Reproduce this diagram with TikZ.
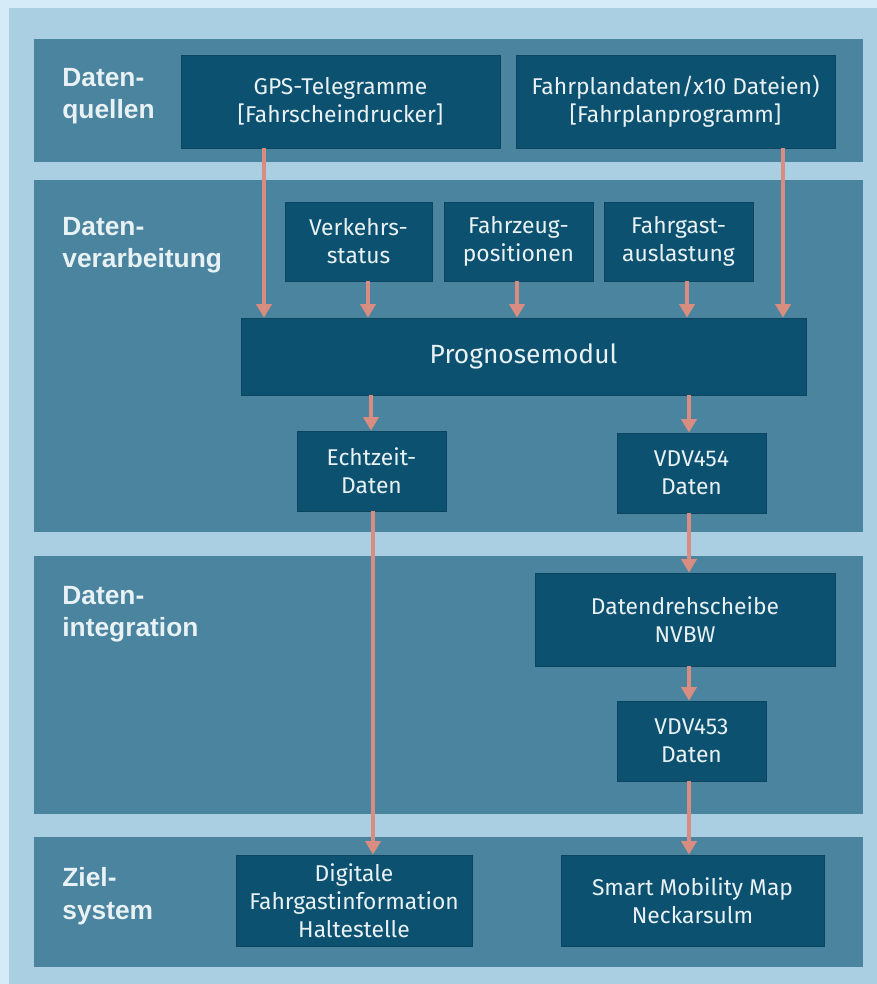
\documentclass[tikz,border=0pt]{standalone}
\usepackage{fontspec}
\setmainfont{Fira Sans}
\newfontfamily\labelfont{Liberation Sans}
\usetikzlibrary{arrows.meta}

\definecolor{pale}{HTML}{D6EBF8}
\definecolor{panel}{HTML}{AACFE2}
\definecolor{band}{HTML}{4A849F}
\definecolor{boxblue}{HTML}{0D5170}
\definecolor{flow}{HTML}{D98D80}
\definecolor{txt}{HTML}{E8F1F4}

\tikzset{
  databox/.style={fill=boxblue, draw=boxblue!85!black, line width=0.4pt, text=txt,
    align=center, inner sep=0pt, font=\fontsize{13}{16}\selectfont},
  layerlabel/.style={text=txt, align=left, anchor=west, inner sep=0pt,
    font=\labelfont\bfseries\fontsize{15}{18.5}\selectfont},
  flowarrow/.style={draw=flow, line width=2.3pt, -{Triangle[length=0.27cm,width=0.3cm]}},
}

\begin{document}
\begin{tikzpicture}[x=0.02cm,y=-0.02cm]
    \useasboundingbox (0,0) rectangle (876,984);
    \fill[pale] (-5,-5) rectangle (885,990);
    \fill[panel] (9,8) rectangle (885,990);
    % layers
    \fill[band] (34,39) rectangle (863,162);
    \fill[band] (34,180) rectangle (863,532);
    \fill[band] (34,556) rectangle (863,814);
    \fill[band] (34,837) rectangle (863,967);

    \node[layerlabel] (quellen) at (62,96) {Daten-\\quellen};
    \node[layerlabel] (verarb) at (62,245) {Daten-\\verarbeitung};
    \node[layerlabel] (integr) at (62,614) {Daten-\\integration};
    \node[layerlabel] (ziel) at (62,896) {Ziel-\\system};

    % boxes
    \node[databox, minimum width=6.38cm, minimum height=1.86cm] (gps) at (340.5,101.5) {GPS-Telegramme\\{[Fahrscheindrucker]}};
    \node[databox, minimum width=6.38cm, minimum height=1.86cm] (fplan) at (675.5,101.5) {Fahrplandaten/x10 Dateien)\\{[Fahrplanprogramm]}};
    \node[databox, minimum width=2.94cm, minimum height=1.58cm] (verkehr) at (358.5,241.5) {Verkehrs-\\status};
    \node[databox, minimum width=2.98cm, minimum height=1.58cm] (fzgpos) at (518.5,241.5) {Fahrzeug-\\positionen};
    \node[databox, minimum width=2.98cm, minimum height=1.58cm] (auslast) at (678.5,241.5) {Fahrgast-\\auslastung};
    \node[databox, minimum width=11.3cm, minimum height=1.54cm, font=\fontsize{15}{18}\selectfont] (prognose) at (523.5,356.5) {Prognosemodul};
    \node[databox, minimum width=2.98cm, minimum height=1.6cm] (echtzeit) at (371.5,471) {Echtzeit-\\Daten};
    \node[databox, minimum width=2.98cm, minimum height=1.6cm] (vdvfour) at (691.5,473) {VDV454\\Daten};
    \node[databox, minimum width=6cm, minimum height=1.86cm] (drehscheibe) at (685,619.5) {Datendrehscheibe\\NVBW};
    \node[databox, minimum width=2.98cm, minimum height=1.6cm] (vdvthree) at (691.5,741) {VDV453\\Daten};
    \node[databox, minimum width=4.72cm, minimum height=1.82cm] (dfi) at (354,900.5) {Digitale\\Fahrgastinformation\\Haltestelle};
    \node[databox, minimum width=5.26cm, minimum height=1.82cm] (smm) at (692.5,900.5) {Smart Mobility Map\\Neckarsulm};

    % arrows
    \draw[flowarrow] (gps.south -| 264,0) -- (prognose.north -| 264,0);
    \draw[flowarrow] (fplan.south -| 783,0) -- (prognose.north -| 783,0);
    \draw[flowarrow] (verkehr.south -| 368,0) -- (prognose.north -| 368,0);
    \draw[flowarrow] (fzgpos.south -| 517,0) -- (prognose.north -| 517,0);
    \draw[flowarrow] (auslast.south -| 687,0) -- (prognose.north -| 687,0);
    \draw[flowarrow] (prognose.south -| 371,0) -- (echtzeit.north -| 371,0);
    \draw[flowarrow] (prognose.south -| 689,0) -- (vdvfour.north -| 689,0);
    \draw[flowarrow] (echtzeit.south -| 373,0) -- (dfi.north -| 373,0);
    \draw[flowarrow] (vdvfour.south -| 689,0) -- (drehscheibe.north -| 689,0);
    \draw[flowarrow] (drehscheibe.south -| 689,0) -- (vdvthree.north -| 689,0);
    \draw[flowarrow] (vdvthree.south -| 689,0) -- (smm.north -| 689,0);
\end{tikzpicture}
\end{document}
